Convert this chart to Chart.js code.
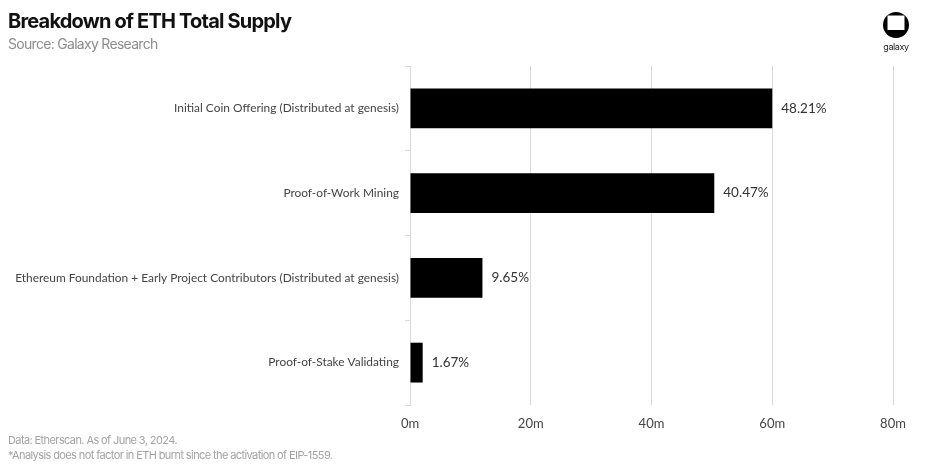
<!DOCTYPE html>
<html>
<head>
<meta charset="utf-8">
<script src="https://cdn.jsdelivr.net/npm/chart.js@4"></script>
<style>
  html, body { margin: 0; padding: 0; background: #fff; }
  #wrap { position: relative; width: 934px; height: 474px; overflow: hidden; }
  #chart { position: absolute; left: 0; top: 0; }
  .title { position: absolute; left: 8px; top: 9px; font: bold 20px Inter, sans-serif; letter-spacing: -0.8px; color: #111; }
  .sub { position: absolute; left: 8px; top: 35px; font: 14px Inter, sans-serif; letter-spacing: -0.7px; color: #8c8c8c; }
  .note { position: absolute; left: 8px; font: 11px Inter, sans-serif; letter-spacing: -0.6px; color: #a3a3a3; }
  #logo { position: absolute; left: 880px; top: 11px; }
</style>
</head>
<body>
<div id="wrap">
  <canvas id="chart" width="934" height="474"></canvas>
  <div class="title">Breakdown of ETH Total Supply</div>
  <div class="sub">Source: Galaxy Research</div>
  <div class="note" style="top:433px">Data: Etherscan. As of June 3, 2024.</div>
  <div class="note" style="top:448px">*Analysis does not factor in ETH burnt since the activation of EIP-1559.</div>
  <svg id="logo" width="34" height="44" viewBox="0 0 34 44">
    <circle cx="16" cy="14" r="13" fill="#000"/>
    <rect x="7.5" y="4.5" width="17" height="14.5" fill="#fff"/>
    <text x="16" y="39" text-anchor="middle" font-family="Inter, sans-serif" font-size="9" letter-spacing="-0.4" fill="#222">galaxy</text>
  </svg>
</div>
<script>
// ===== DATA =====
const categories = [
    'Initial Coin Offering (Distributed at genesis)',
    'Proof-of-Work Mining',
    'Ethereum Foundation + Early Project Contributors (Distributed at genesis)',
    'Proof-of-Stake Validating'
];
const supplyM = [60.0, 50.4, 12.0, 2.1];          // ETH, millions
const shareLabels = ['48.21%', '40.47%', '9.65%', '1.67%'];
const xMax = 80;
const xStep = 20;

// label percentuale di fianco a ogni barra
const barLabels = {
    id: 'barLabels',
    afterDatasetsDraw(chart) {
        const ctx = chart.ctx;
        const meta = chart.getDatasetMeta(0);
        ctx.save();
        ctx.font = '13.5px Lato, sans-serif';
        ctx.fillStyle = '#333';
        ctx.textAlign = 'left';
        ctx.textBaseline = 'middle';
        meta.data.forEach((bar, i) => {
            ctx.fillText(shareLabels[i], bar.x + 9, bar.y);
        });
        ctx.restore();
    }
};

new Chart(document.getElementById('chart').getContext('2d'), {
    type: 'bar',
    data: {
        labels: categories,
        datasets: [{
            data: supplyM,
            backgroundColor: '#000',
            categoryPercentage: 1,
            barPercentage: 0.47
        }]
    },
    options: {
        indexAxis: 'y',
        responsive: false,
        animation: false,
        layout: { padding: { top: 66, right: 41, left: 0, bottom: 0 } },
        plugins: { legend: { display: false }, tooltip: { enabled: false } },
        scales: {
            x: {
                min: 0,
                max: xMax,
                ticks: {
                    stepSize: xStep,
                    padding: 11,
                    color: '#444',
                    font: { family: 'Lato, sans-serif', size: 13 },
                    callback: v => v + 'm'
                },
                grid: { color: '#d9d9d9', drawTicks: false },
                border: { display: false },
                afterFit: s => { s.height = 69; }
            },
            y: {
                ticks: {
                    padding: 6,
                    color: '#444',
                    font: { family: 'Lato, sans-serif', size: 11.9 }
                },
                grid: { drawOnChartArea: false, drawTicks: true, tickLength: 5, color: '#d9d9d9' },
                border: { color: '#d9d9d9' },
                afterFit: s => { s.width = 410; }
            }
        }
    },
    plugins: [barLabels]
});
</script>
</body>
</html>
